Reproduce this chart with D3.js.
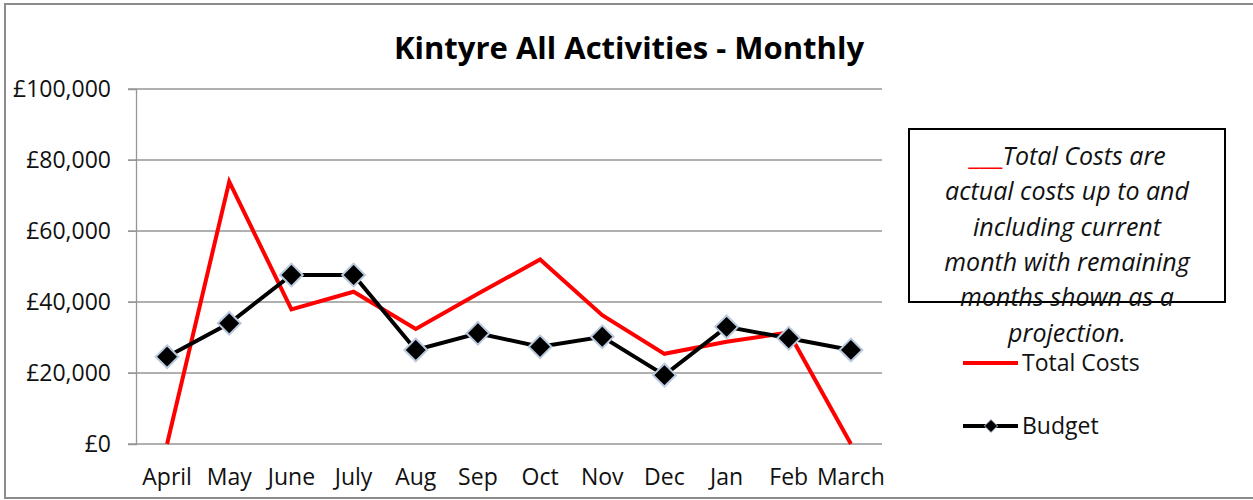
<!DOCTYPE html>
<html>
<head>
<meta charset="utf-8">
<script src="https://cdn.jsdelivr.net/npm/d3@7"></script>
<style>
  body { margin: 0; background: #fff; }
  text { font-family: 'Open Sans', sans-serif; }
</style>
</head>
<body>
<div id="chart"></div>
<script>
let months = ['April', 'May', 'June', 'July', 'Aug', 'Sep', 'Oct', 'Nov', 'Dec', 'Jan', 'Feb', 'March']
let totalCosts = [0, 73900, 37900, 42900, 32400, 42300, 52000, 36300, 25400, 28800, 31400, 0]
let budget = [24600, 34000, 47600, 47600, 26500, 31200, 27400, 30200, 19400, 33000, 29800, 26500]
let yTicks = [0, 20000, 40000, 60000, 80000, 100000]
let noteLines = ['Total Costs are', 'actual costs up to and', 'including current', 'month with remaining', 'months shown as a', 'projection.']

let width = 1253
let height = 500
let margin = { top: 89, left: 136, right: 371, bottom: 56 }

let svg = d3
  .select('#chart')
  .append('svg')
  .attr('width', width)
  .attr('height', height)

// chart frame
svg
  .append('rect')
  .attr('x', 5)
  .attr('y', 4)
  .attr('width', width + 10)
  .attr('height', 494)
  .attr('fill', 'white')
  .attr('stroke', '#8c8c8c')
  .attr('stroke-width', 2)

let x = d3
  .scaleBand()
  .domain(months)
  .range([margin.left, width - margin.right])

let y = d3
  .scaleLinear()
  .domain([0, 100000])
  .range([height - margin.bottom, margin.top])

// gridlines
svg
  .selectAll('.grid')
  .data(yTicks)
  .enter()
  .append('line')
  .attr('class', 'grid')
  .attr('x1', margin.left - 8)
  .attr('x2', width - margin.right)
  .attr('y1', d => y(d))
  .attr('y2', d => y(d))
  .attr('stroke', '#969696')
  .attr('stroke-width', 1.3)

// y axis
let yAxis = d3
  .axisLeft(y)
  .tickValues(yTicks)
  .tickSize(8)
  .tickFormat(d => '£' + d3.format(',')(d))

svg
  .append('g')
  .attr('transform', `translate(${margin.left},0)`)
  .call(yAxis)
  .call(g => g.select('.domain').attr('stroke', '#969696').attr('stroke-width', 1.3))
  .call(g => g.selectAll('.tick line').attr('stroke', '#969696'))
  .call(g =>
    g
      .selectAll('.tick text')
      .attr('font-size', 23)
      .attr('fill', '#111')
      .attr('x', -25)
      .attr('font-family', "'Open Sans', sans-serif")
  )

// x axis labels
let xAxis = d3.axisBottom(x).tickSize(0).tickPadding(25)

svg
  .append('g')
  .attr('transform', `translate(0,${y(0)})`)
  .call(xAxis)
  .call(g => g.select('.domain').remove())
  .call(g =>
    g
      .selectAll('.tick text')
      .attr('font-size', 23)
      .attr('fill', '#111')
      .attr('font-family', "'Open Sans', sans-serif")
  )

let cx = d => x(d) + x.bandwidth() / 2

let line = d3
  .line()
  .x((d, i) => cx(months[i]))
  .y(d => y(d))

svg
  .append('path')
  .datum(totalCosts)
  .attr('d', line)
  .attr('fill', 'none')
  .attr('stroke', '#ff0000')
  .attr('stroke-width', 4)

svg
  .append('path')
  .datum(budget)
  .attr('d', line)
  .attr('fill', 'none')
  .attr('stroke', 'black')
  .attr('stroke-width', 4)

let diamond = d3.symbol().type(d3.symbolDiamond2).size(330)

svg
  .selectAll('.budget-marker')
  .data(budget)
  .enter()
  .append('path')
  .attr('class', 'budget-marker')
  .attr('d', diamond)
  .attr('transform', (d, i) => `translate(${cx(months[i])},${y(d)})`)
  .attr('fill', 'black')
  .attr('stroke', '#b9c9de')
  .attr('stroke-width', 2)

// title
svg
  .append('text')
  .text('Kintyre All Activities - Monthly')
  .attr('x', 629)
  .attr('y', 59)
  .attr('text-anchor', 'middle')
  .attr('font-size', 31)
  .attr('font-weight', 'bold')
  .attr('fill', 'black')

// note box
let note = svg.append('g').attr('transform', 'translate(909,129)')

note
  .append('rect')
  .attr('width', 316)
  .attr('height', 173)
  .attr('fill', 'white')
  .attr('stroke', 'black')
  .attr('stroke-width', 2)

let noteText = note
  .selectAll('.note-line')
  .data(noteLines)
  .enter()
  .append('text')
  .attr('class', 'note-line')
  .attr('x', 158)
  .attr('y', (d, i) => 36 + i * 35.3)
  .attr('text-anchor', 'middle')
  .attr('font-size', 25)
  .attr('font-style', 'italic')
  .attr('fill', '#111')

noteText
  .filter((d, i) => i === 0)
  .append('tspan')
  .attr('fill', '#ff0000')
  .attr('font-style', 'normal')
  .attr('font-size', 26)
  .text('___')

noteText.append('tspan').text(d => d)

// legend
let legend = svg.append('g').attr('transform', 'translate(963,0)')

let legendItems = [
  { name: 'Total Costs', color: '#ff0000', marker: false, y: 363 },
  { name: 'Budget', color: 'black', marker: true, y: 426 }
]

legend
  .selectAll('.legend-entry')
  .data(legendItems)
  .enter()
  .append('g')
  .attr('class', 'legend-entry')
  .attr('transform', d => `translate(0,${d.y})`)
  .each(function(d) {
    let g = d3.select(this)

    g.append('line')
      .attr('x1', 0)
      .attr('x2', 55)
      .attr('stroke', d.color)
      .attr('stroke-width', 4)

    if (d.marker) {
      g.append('path')
        .attr('d', d3.symbol().type(d3.symbolDiamond2).size(110))
        .attr('transform', 'translate(28,0)')
        .attr('fill', 'black')
        .attr('stroke', '#b9c9de')
        .attr('stroke-width', 1)
    }

    g.append('text')
      .text(d.name)
      .attr('x', 59)
      .attr('y', 8)
      .attr('font-size', 23)
      .attr('fill', '#111')
  })
</script>
</body>
</html>
